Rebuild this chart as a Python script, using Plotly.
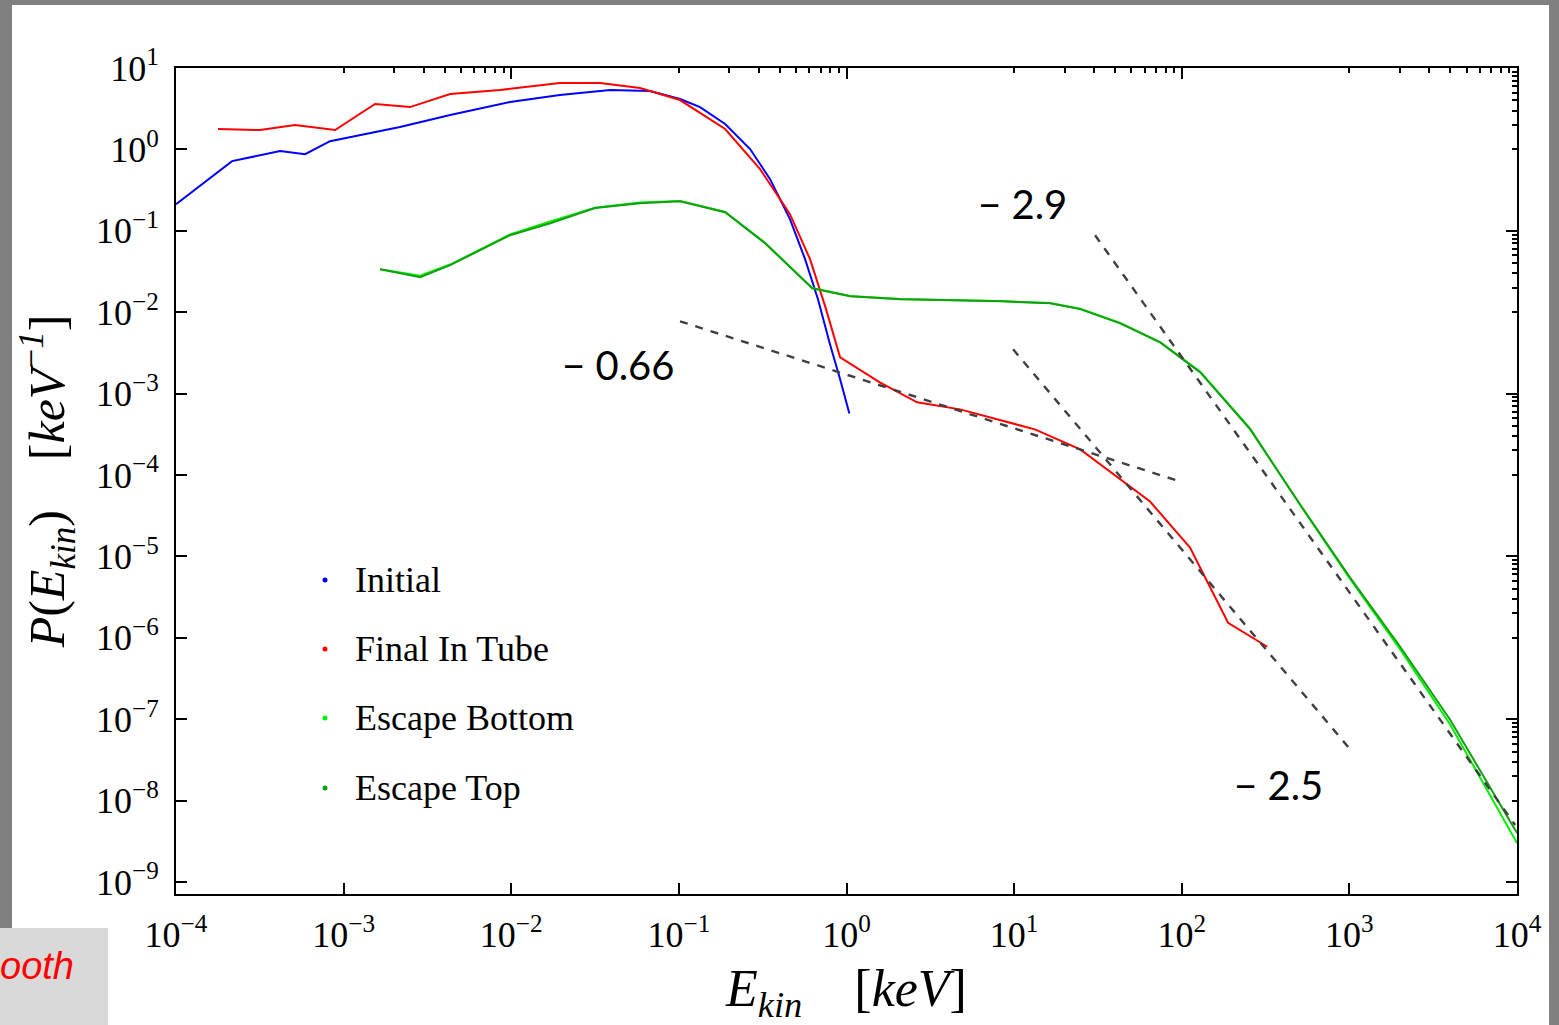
import plotly.graph_objects as go

# ---------------- data ----------------
E_initial = [1.0e-4, 2.16e-4, 4.18e-4, 5.89e-4, 8.30e-4, 2.17e-3, 4.32e-3, 9.84e-3, 1.95e-2,
             3.89e-2, 6.73e-2, 0.1016, 0.1337, 0.1888, 0.266, 0.350, 0.460, 0.566, 0.676,
             0.797, 0.916, 1.04]
P_initial = [0.212, 0.718, 0.953, 0.875, 1.26, 1.88, 2.64, 3.82, 4.66,
             5.36, 5.21, 4.16, 3.31, 2.05, 1.01, 0.431, 0.139, 0.0448, 0.0144,
             4.03e-3, 1.50e-3, 5.71e-4]

E_final = [1.78e-4, 3.17e-4, 5.13e-4, 8.89e-4, 1.54e-3, 2.49e-3, 4.32e-3, 8.57e-3, 1.95e-2,
           3.39e-2, 5.86e-2, 0.1016, 0.1888, 0.305, 0.460, 0.606, 0.755, 0.916, 1.58,
           2.64, 4.76, 13.3, 24.8, 64.7, 112, 189, 324]
P_final = [1.78, 1.73, 1.99, 1.73, 3.61, 3.31, 4.79, 5.36, 6.53,
           6.53, 5.67, 4.04, 1.78, 0.573, 0.160, 0.0448, 0.0109, 2.79e-3, 1.37e-3,
           7.80e-4, 6.40e-4, 3.63e-4, 2.06e-4, 4.72e-5, 1.28e-5, 1.53e-6, 7.76e-7]

E_escape = [1.65e-3, 2.86e-3, 4.32e-3, 9.84e-3, 0.0171, 0.0316, 0.0586, 0.1016, 0.1888,
            0.327, 0.624, 1.05, 2.09, 8.26, 16.4, 24.8, 42.9, 74.3, 129, 256, 508,
            1010, 2010, 3990, 1.0e4]
P_escape_bottom = [0.0337, 0.0280, 0.0385, 0.0900, 0.130, 0.192, 0.222, 0.233, 0.170,
                   0.0710, 0.0199, 0.0158, 0.0145, 0.0137, 0.0130, 0.0110, 7.4e-3, 4.3e-3,
                   1.85e-3, 3.7e-4, 4.3e-5, 5.3e-6, 7.2e-7, 8.6e-8, 3.0e-9]
P_escape_top = [0.0337, 0.0269, 0.0378, 0.0883, 0.124, 0.190, 0.218, 0.231, 0.169,
                0.0703, 0.0197, 0.0157, 0.0144, 0.0136, 0.0129, 0.0109, 7.30e-3, 4.26e-3,
                1.82e-3, 3.63e-4, 4.34e-5, 5.48e-6, 7.76e-7, 9.84e-8, 4.0e-9]

# power-law guide lines (end points) and their slope labels
fit_labels = ["\u2212 0.66", "\u2212 2.5", "\u2212 2.9"]
fit_E = [[0.1016, 97.7], [9.86, 1040], [30.4, 9750]]
fit_P = [[7.73e-3, 8.32e-5], [3.50e-3, 3.97e-8], [0.0883, 5.0e-9]]
label_logE = [-1.363, 2.575, 1.048]
label_logP = [-2.653, -7.807, -0.673]

legend_names = ["Initial", "Final In Tube", "Escape Bottom", "Escape Top"]
series_colors = ["#0000ff", "#ff0000", "#00ee00", "#12a012"]

x_exponents = [-4, -3, -2, -1, 0, 1, 2, 3, 4]
y_exponents = [1, 0, -1, -2, -3, -4, -5, -6, -7, -8, -9]

# ---------------- figure ----------------
W, H = 1559, 1025
L, R, T, B = 176, 42, 68, 131
pw, ph = W - L - R, H - T - B


def px_x(p):
    return (p - L) / pw


def px_y(p):
    return (H - B - p) / ph


SERIF = "Liberation Serif"
fig = go.Figure()

series = [(E_initial, P_initial), (E_final, P_final),
          (E_escape, P_escape_bottom), (E_escape, P_escape_top)]
for (ex, py_), name, col in zip(series, legend_names, series_colors):
    fig.add_trace(go.Scatter(x=ex, y=py_, mode="lines", name=name,
                             line=dict(color=col, width=2), showlegend=False))

for fe, fp in zip(fit_E, fit_P):
    fig.add_trace(go.Scatter(x=fe, y=fp, mode="lines", showlegend=False,
                             line=dict(color="#404040", width=2.4, dash="8px,8px"),
                             hoverinfo="skip"))

# invisible anchor trace for the secondary (top/right) frame axes
fig.add_trace(go.Scatter(x=E_initial, y=P_initial, xaxis="x2", yaxis="y2", mode="lines",
                         line=dict(width=0), opacity=0, showlegend=False, hoverinfo="skip"))

xmaj = [10.0 ** e for e in x_exponents]
xtxt = ["10<sup>%s</sup>" % (str(e).replace("-", "\u2212")) for e in x_exponents]
ymaj = [10.0 ** e for e in y_exponents]
ytxt = ["10<sup>%s</sup>" % (str(e).replace("-", "\u2212")) for e in y_exponents]

top_major = [10.0 ** e for e in x_exponents if e % 2 == 0]
top_minor = [k * 10.0 ** e for e in x_exponents if e % 2 != 0 for k in range(1, 10)]
right_major = [10.0 ** e for e in y_exponents if e % 2 != 0]
right_minor = [k * 10.0 ** e for e in y_exponents if e % 2 == 0 for k in range(1, 10)]

yrange = [-9.148, 1]
axis_common = dict(type="log", showgrid=False, zeroline=False, showline=True,
                   linecolor="black", linewidth=2, ticks="inside", tickcolor="black",
                   tickwidth=2)

fig.update_layout(
    width=W, height=H, autosize=False,
    margin=dict(l=L, r=R, t=T, b=B, pad=0),
    paper_bgcolor="#808080", plot_bgcolor="white",
    showlegend=False,
    xaxis=dict(**axis_common, range=[-4, 4], tickmode="array", tickvals=xmaj, ticktext=xtxt,
               ticklen=11, tickfont=dict(family=SERIF, size=36, color="black"),
               ticklabelstandoff=8,
               title=dict(text="<i>E</i><sub><i>kin</i></sub>    [<i>keV</i>]",
                          font=dict(family=SERIF, size=52, color="black"), standoff=17)),
    yaxis=dict(**axis_common, range=yrange, tickmode="array", tickvals=ymaj, ticktext=ytxt,
               ticklen=11, tickfont=dict(family=SERIF, size=36, color="black"),
               ticklabelstandoff=8,
               title=dict(text="<i>P</i>(<i>E</i><sub><i>kin</i></sub>)    [<i>keV</i><sup>\u2212<i>1</i></sup>]",
                          font=dict(family=SERIF, size=50, color="black"), standoff=15)),
    xaxis2=dict(**axis_common, range=[-4, 4], overlaying="x", side="top", anchor="y2",
                tickmode="array", tickvals=top_major, ticklen=11, showticklabels=False,
                minor=dict(tickmode="array", tickvals=top_minor, ticks="inside", ticklen=5,
                           tickwidth=2, tickcolor="black", showgrid=False)),
    yaxis2=dict(**axis_common, range=yrange, overlaying="y", side="right", anchor="x2",
                tickmode="array", tickvals=right_major, ticklen=11, showticklabels=False,
                minor=dict(tickmode="array", tickvals=right_minor, ticks="inside", ticklen=5,
                           tickwidth=2, tickcolor="black", showgrid=False)),
)

# white panel and the grey corner box
fig.add_shape(type="rect", xref="paper", yref="paper", layer="below",
              x0=px_x(12), x1=px_x(1549), y0=px_y(1030), y1=px_y(5),
              fillcolor="white", line=dict(width=0))
fig.add_shape(type="rect", xref="paper", yref="paper", layer="below",
              x0=px_x(-5), x1=px_x(108), y0=px_y(1030), y1=px_y(928),
              fillcolor="#d9d9d9", line=dict(width=0))
fig.add_annotation(xref="paper", yref="paper", x=px_x(76), y=px_y(966), xanchor="right",
                   yanchor="middle", showarrow=False, text="<i>ooth</i>",
                   font=dict(family="Liberation Sans", size=38, color="#ff0000"))

# slope labels
for txt, lx, ly in zip(fit_labels, label_logE, label_logP):
    fig.add_annotation(x=lx, y=ly, xref="x", yref="y", text=txt, showarrow=False,
                       font=dict(family="Lato", size=40, color="black"))

# legend (dots + labels)
leg_y = [580, 649, 718, 788]
for name, col, yy in zip(legend_names, series_colors, leg_y):
    fig.add_shape(type="circle", xref="paper", yref="paper", xsizemode="pixel",
                  ysizemode="pixel", xanchor=px_x(325), yanchor=px_y(yy),
                  x0=-2.5, x1=2.5, y0=-2.5, y1=2.5, fillcolor=col, line=dict(width=0))
    fig.add_annotation(xref="paper", yref="paper", x=px_x(353), y=px_y(yy), xanchor="left",
                       yanchor="middle", showarrow=False, text=name,
                       font=dict(family=SERIF, size=36, color="black"))

fig.write_html("out.html", config={"displayModeBar": False},
               post_script="document.body.style.margin='0px';")
